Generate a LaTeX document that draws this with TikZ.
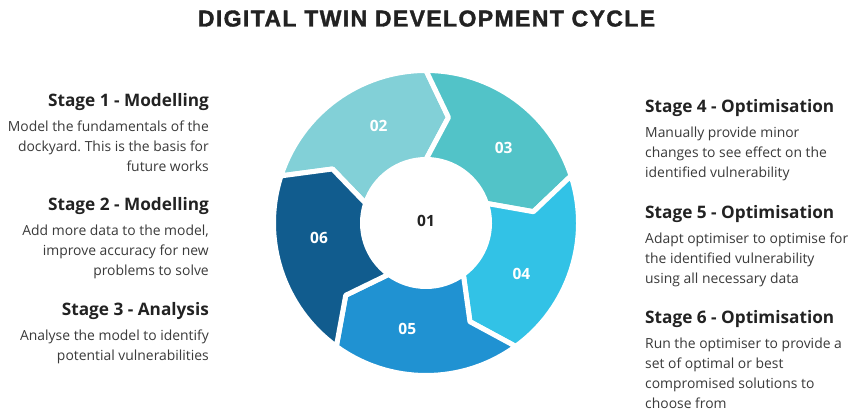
\documentclass[tikz,border=0pt]{standalone}
\usepackage{fontspec}
\setmainfont{Open Sans}
\newfontfamily\titlefont[LetterSpace=6, FakeBold=1.5]{Liberation Sans Bold}
\usetikzlibrary{positioning}
\frenchspacing

\definecolor{segtwo}{RGB}{130,208,215}
\definecolor{segthree}{RGB}{82,195,200}
\definecolor{segfour}{RGB}{50,194,230}
\definecolor{segfive}{RGB}{32,146,210}
\definecolor{segsix}{RGB}{17,92,142}
\definecolor{headgray}{RGB}{34,34,34}
\definecolor{bodygray}{RGB}{58,58,58}

\tikzset{
  heading/.style={font=\bfseries\fontsize{17.2}{20}\selectfont, text=headgray},
  body/.style={font=\fontsize{13.9}{20}\selectfont, text=bodygray},
  segnum/.style={font=\bfseries\fontsize{15.5}{15.5}\selectfont, text=white},
}

\begin{document}
\begin{tikzpicture}[x=1pt,y=1pt]
\tikzstyle{every node}+=[inner sep=0pt]
\useasboundingbox (0,0) rectangle (850,411);
\fill[white] (0,0) rectangle (850,411);

% title
\node[anchor=base, font=\titlefont\fontsize{23}{26}\selectfont, text=headgray] (title) at (426.5,384.5) {DIGITAL TWIN DEVELOPMENT CYCLE};

% ring of five arrows
\begin{scope}[shift={(426,188)}]
\foreach \a/\col/\num in {162/segtwo/02, 90/segthree/03, 18/segfour/04, -54/segfive/05, -126/segsix/06} {
  \pgfmathsetmacro\b{\a-72}
  \filldraw[fill=\col, draw=white, line width=5pt, line join=round]
    (\a:152.5) arc[start angle=\a, end angle=\b, radius=152.5]
    -- (\b-12:108) -- (\b:63.5)
    arc[start angle=\b, end angle=\a, radius=63.5]
    -- (\a-12:108) -- cycle;
  \node[segnum] (seg\num) at (\a-46:108) {\num};
}
\node[segnum, text=headgray] (seg01) at (0,2) {01};
\end{scope}

% left side
\node[heading, anchor=base east] (s1) at (209,304) {Stage 1 - Modelling};
\node[body, align=right, below left=14pt and 0pt of s1.base east] (t1)
  {Model the fundamentals of the\\dockyard. This is the basis for\\future works\hspace{3pt}};
\node[heading, anchor=base east] (s2) at (209,200) {Stage 2 - Modelling};
\node[body, align=right, below left=14pt and 0pt of s2.base east] (t2)
  {Add more data to the model,\\improve accuracy for new\\problems to solve\hspace{3pt}};
\node[heading, anchor=base east] (s3) at (209,95) {Stage 3 - Analysis};
\node[body, align=right, below left=14pt and 0pt of s3.base east] (t3)
  {Analyse the model to identify\\potential vulnerabilities};

% right side
\node[heading, anchor=base west] (s4) at (645,298) {Stage 4 - Optimisation};
\node[body, align=left, below right=14pt and 0pt of s4.base west] (t4)
  {Manually provide minor\\changes to see effect on the\\identified vulnerability};
\node[heading, anchor=base west] (s5) at (645,192) {Stage 5 - Optimisation};
\node[body, align=left, below right=14pt and 0pt of s5.base west] (t5)
  {Adapt optimiser to optimise for\\the identified vulnerability\\using all necessary data};
\node[heading, anchor=base west] (s6) at (645,87) {Stage 6 - Optimisation};
\node[body, align=left, below right=14pt and 0pt of s6.base west] (t6)
  {Run the optimiser to provide a\\set of optimal or best\\compromised solutions to\\choose from};
\end{tikzpicture}
\end{document}
